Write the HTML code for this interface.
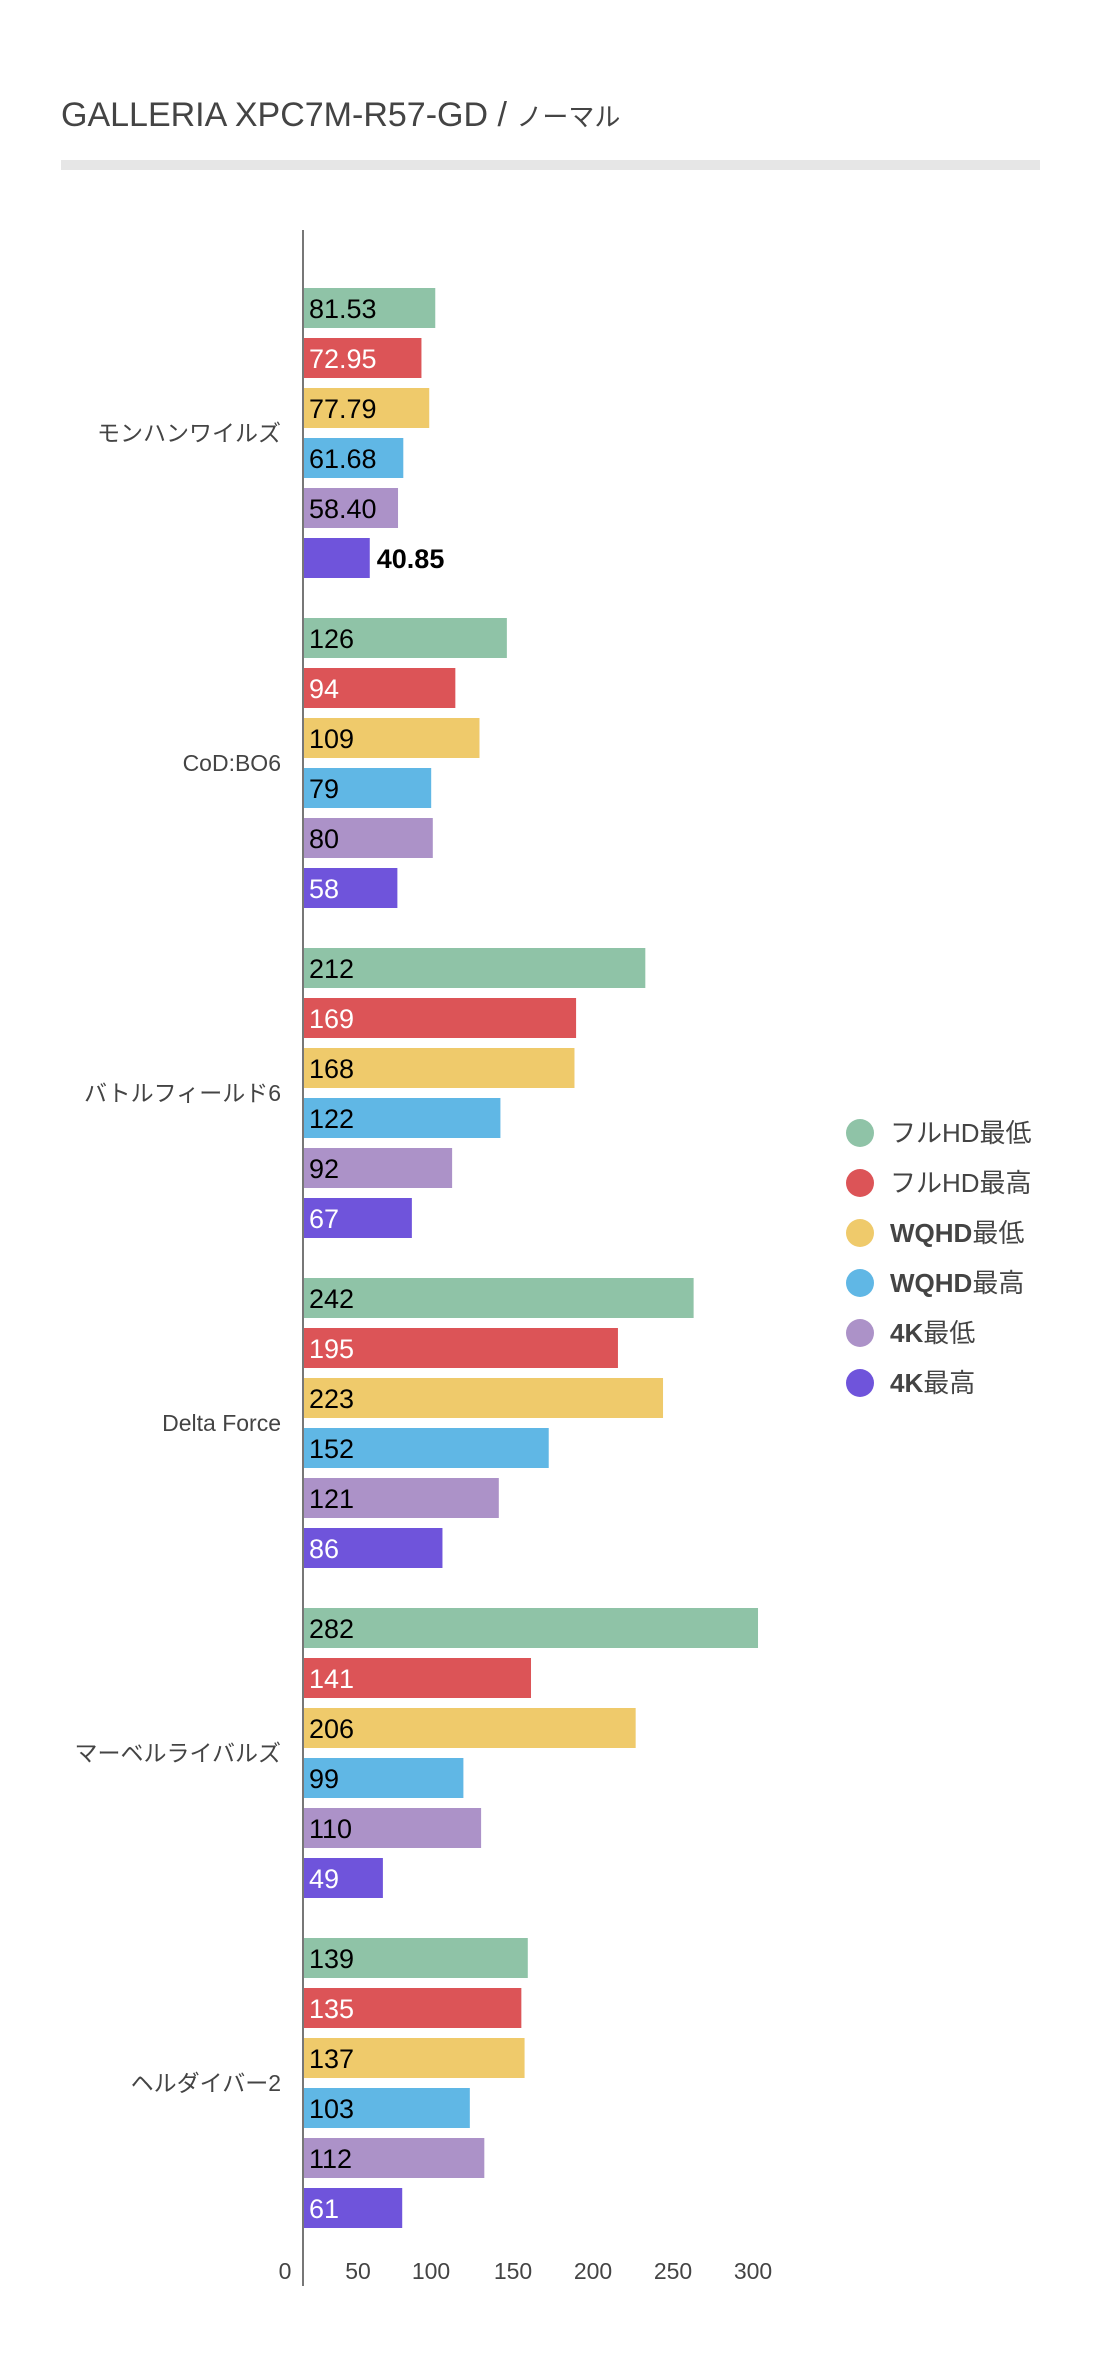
<!DOCTYPE html>
<html><head><meta charset="utf-8"><style>
html,body{margin:0;padding:0;background:#fff;}
svg{display:block;}
text{font-family:"Liberation Sans","Noto Sans CJK JP",sans-serif;}
</style></head><body>
<svg width="1100" height="2354" viewBox="0 0 1100 2354" xmlns="http://www.w3.org/2000/svg">
<text x="61" y="126" font-size="34" fill="#444">GALLERIA XPC7M-R57-GD / <tspan font-size="26">ノーマル</tspan></text>
<rect x="61" y="160" width="979" height="10" fill="#e6e6e6"/>
<g id="bars"></g>
<line x1="303" y1="230" x2="303" y2="2286" stroke="#777" stroke-width="2"/>
<g font-size="23" fill="#444" text-anchor="middle">
<text x="285" y="2279">0</text><text x="358" y="2279">50</text><text x="431" y="2279">100</text>
<text x="513" y="2279">150</text><text x="593" y="2279">200</text><text x="673" y="2279">250</text><text x="753" y="2279">300</text>
</g>
<g font-size="26" fill="#444">
<circle cx="860" cy="1133" r="14" fill="#8fc3a7"/><text x="890" y="1142">フルHD最低</text>
<circle cx="860" cy="1183" r="14" fill="#dc5457"/><text x="890" y="1192">フルHD最高</text>
<circle cx="860" cy="1233" r="14" fill="#efca6b"/><text x="890" y="1242" font-weight="bold">WQHD<tspan font-weight="normal">最低</tspan></text>
<circle cx="860" cy="1283" r="14" fill="#60b7e5"/><text x="890" y="1292" font-weight="bold">WQHD<tspan font-weight="normal">最高</tspan></text>
<circle cx="860" cy="1333" r="14" fill="#ac92c8"/><text x="890" y="1342" font-weight="bold">4K<tspan font-weight="normal">最低</tspan></text>
<circle cx="860" cy="1383" r="14" fill="#6f54db"/><text x="890" y="1392" font-weight="bold">4K<tspan font-weight="normal">最高</tspan></text>
</g>
</svg>
<script>
const cats=["モンハンワイルズ","CoD:BO6","バトルフィールド6","Delta Force","マーベルライバルズ","ヘルダイバー2"];
const data=[["81.53","72.95","77.79","61.68","58.40","40.85"],["126","94","109","79","80","58"],["212","169","168","122","92","67"],["242","195","223","152","121","86"],["282","141","206","99","110","49"],["139","135","137","103","112","61"]];
const cols=["#8fc3a7","#dc5457","#efca6b","#60b7e5","#ac92c8","#6f54db"];
const tc=["#000","#fff","#000","#000","#000","#fff"];
const g=document.getElementById("bars");let h="";
cats.forEach((c,i)=>{const y0=288+i*330;
h+=`<text x="281" y="${y0+145+8}" font-size="23" fill="#444" text-anchor="end">${c}</text>`;
data[i].forEach((v,j)=>{const y=y0+j*50,w=parseFloat(v)*1.61;
h+=`<rect x="304" y="${y}" width="${w}" height="40" fill="${cols[j]}"/>`;
const out=(i==0&&j==5);
h+=`<text x="${out?304+w+7:309}" y="${y+30}" font-size="27" font-weight="${out?'bold':'500'}" fill="${out?'#000':tc[j]}">${v}</text>`;});});
g.innerHTML=h;
</script>
</body></html>
